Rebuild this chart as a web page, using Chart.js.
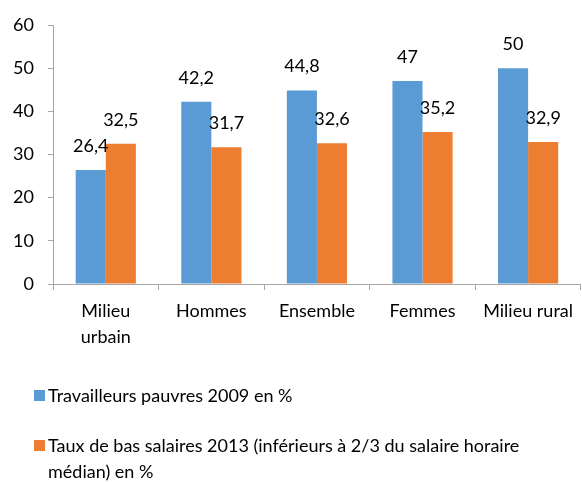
<!DOCTYPE html>
<html>
<head>
<meta charset="utf-8">
<script src="https://cdn.jsdelivr.net/npm/chart.js@4/dist/chart.umd.min.js"></script>
<style>
  body { margin: 0; background: #fff; }
  #wrap { width: 582px; height: 482px; position: relative; }
</style>
</head>
<body>
<div id="wrap"><canvas id="myChart" width="582" height="482"></canvas></div>
<script>
// categories and values
var categories = [['Milieu', 'urbain'], 'Hommes', 'Ensemble', 'Femmes', 'Milieu rural'];
var travailleursPauvres = [26.4, 42.2, 44.8, 47, 50];
var basSalaires = [32.5, 31.7, 32.6, 35.2, 32.9];
var yTicks = [0, 10, 20, 30, 40, 50, 60];

// legend text, split the way the picture wraps it
var legendLines = [
    ['Travailleurs pauvres 2009 en %'],
    ['Taux de bas salaires 2013 (inférieurs à 2/3 du salaire horaire', 'médian) en %']
];

var FONT = 'Lato, "Open Sans", sans-serif';

// valeurs au-dessus des barres, avec virgule
var barLabels = {
    id: 'barLabels',
    afterDatasetsDraw: function(chart) {
        var ctx = chart.ctx;
        ctx.save();
        ctx.font = '18px ' + FONT;
        ctx.fillStyle = '#000';
        ctx.textAlign = 'center';
        ctx.textBaseline = 'middle';
        chart.data.datasets.forEach(function(ds, i) {
            chart.getDatasetMeta(i).data.forEach(function(bar, j) {
                var txt = String(ds.data[j]).replace('.', ',');
                ctx.fillText(txt, bar.x, bar.y - 24);
            });
        });
        ctx.restore();
    }
};

// legende dessinee a la main (Chart.js ne coupe pas les lignes)
var customLegend = {
    id: 'customLegend',
    afterDraw: function(chart) {
        var ctx = chart.ctx;
        ctx.save();
        ctx.font = '18px ' + FONT;
        ctx.textBaseline = 'middle';
        ctx.textAlign = 'left';
        var starts = [396, 446];
        chart.data.datasets.forEach(function(ds, i) {
            var y = starts[i];
            ctx.fillStyle = ds.backgroundColor;
            ctx.fillRect(34, y - 6, 11, 11);
            ctx.fillStyle = '#000';
            legendLines[i].forEach(function(line, k) {
                ctx.fillText(line, 48, y + k * 26);
            });
        });
        ctx.restore();
    }
};

var ctx = document.getElementById('myChart').getContext('2d');
var chart = new Chart(ctx, {
    type: 'bar',
    data: {
        labels: categories,
        datasets: [{
            label: 'Travailleurs pauvres 2009 en %',
            backgroundColor: '#5B9BD5',
            data: travailleursPauvres
        }, {
            label: 'Taux de bas salaires 2013 (inférieurs à 2/3 du salaire horaire médian) en %',
            backgroundColor: '#ED7D31',
            data: basSalaires
        }]
    },
    options: {
        responsive: false,
        animation: false,
        layout: { padding: { top: 25, left: 0, right: 0, bottom: 0 } },
        plugins: {
            legend: { display: false },
            tooltip: { enabled: false }
        },
        datasets: {
            bar: { categoryPercentage: 0.57, barPercentage: 1.0 }
        },
        scales: {
            x: {
                grid: {
                    display: true,
                    drawOnChartArea: false,
                    offset: true,
                    tickLength: 6,
                    color: '#A6A6A6'
                },
                border: { color: '#A6A6A6', width: 1 },
                ticks: {
                    color: '#000',
                    font: { family: FONT, size: 18, lineHeight: 1.4 },
                    padding: 9,
                    maxRotation: 0,
                    autoSkip: false
                },
                afterFit: function(scale) { scale.height = 198; }
            },
            y: {
                min: 0,
                max: 60,
                afterBuildTicks: function(scale) {
                    scale.ticks = yTicks.map(function(v) { return { value: v }; });
                },
                grid: {
                    display: true,
                    drawOnChartArea: false,
                    tickLength: 5,
                    color: '#A6A6A6'
                },
                border: { color: '#A6A6A6', width: 1 },
                ticks: {
                    color: '#000',
                    font: { family: FONT, size: 18 },
                    padding: 14
                },
                afterFit: function(scale) { scale.width = 53; }
            }
        }
    },
    plugins: [barLabels, customLegend]
});
</script>
</body>
</html>
